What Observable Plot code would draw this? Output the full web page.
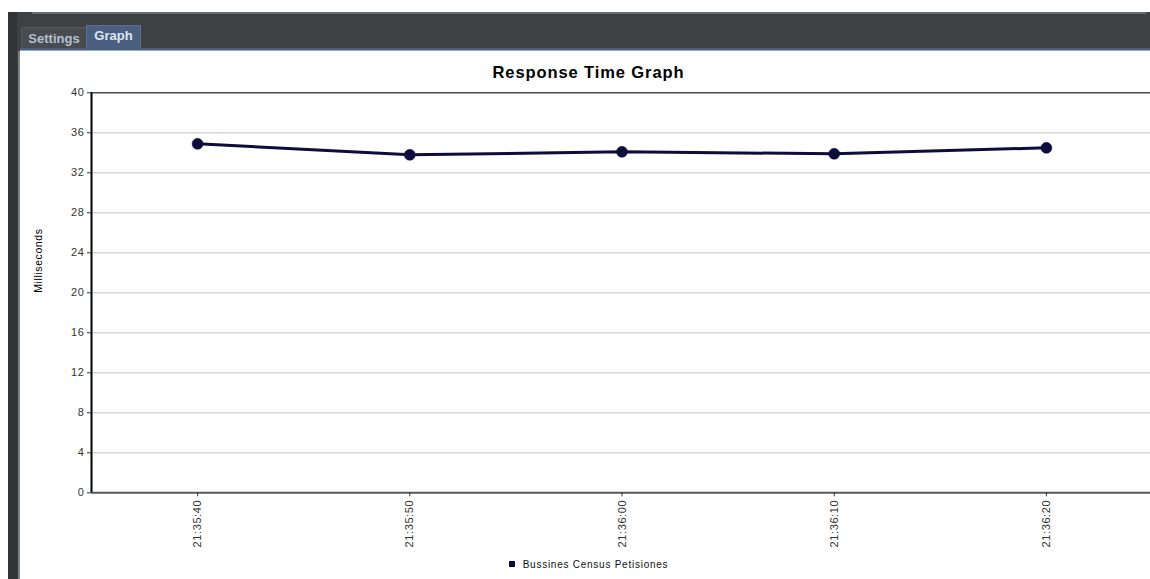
<!DOCTYPE html>
<html>
<head>
<meta charset="utf-8">
<script src="https://cdn.jsdelivr.net/npm/d3@7"></script>
<script src="https://cdn.jsdelivr.net/npm/@observablehq/plot@0.6"></script>
<style>
html,body{margin:0;padding:0;background:#fff;width:1150px;height:579px;overflow:hidden;font-family:"Liberation Sans",Arial,sans-serif;}
.abs{position:absolute;}
#panel{left:8px;top:12px;width:1142px;height:567px;background:#3d4144;}
#lstrip{left:8px;top:12px;width:9px;height:567px;background:#303437;}
#lline{left:18px;top:51px;width:2px;height:528px;background:#7d8184;}
#topline{left:32px;top:12px;width:1114px;height:2px;background:#6b6f72;}
#tabline{left:20px;top:48px;width:1130px;height:2px;background:#4a5f80;}
#tabline2{left:20px;top:50px;width:1130px;height:1px;background:#9aabc4;}
#tabSettings{left:21px;top:27px;width:64px;height:21px;background:#474c51;border:1px solid #55595d;border-bottom:none;border-radius:3px 0 0 0;color:#b4c0cc;font-weight:bold;font-size:13px;line-height:22px;text-align:center;}
#tabGraph{left:86px;top:25px;width:53px;height:24px;background:#4b5f80;border:1px solid #5c6f8e;border-bottom:none;color:#dfe6f0;font-weight:bold;font-size:13px;line-height:20px;text-align:center;}
#chart{left:20px;top:51px;width:1130px;height:528px;background:#fff;overflow:hidden;}
#title{position:absolute;left:0;top:0;width:1137px;height:30px;line-height:42px;text-align:center;font-weight:bold;font-size:16.5px;letter-spacing:0.9px;color:#000;}
#svgwrap{position:absolute;left:0;top:30px;width:1137px;height:470px;}
#svgwrap svg{max-width:none !important;}
#legend{position:absolute;left:0;top:506px;width:1137px;height:16px;line-height:16px;text-align:center;font-size:10px;letter-spacing:0.75px;color:#111;}
#legend .sw{display:inline-block;width:6px;height:6px;background:#0d0c3b;margin-right:8px;vertical-align:1px;}
</style>
</head>
<body>
<div class="abs" id="panel"></div>
<div class="abs" id="lstrip"></div>
<div class="abs" id="topline"></div>
<div class="abs" id="tabSettings">Settings</div>
<div class="abs" id="tabGraph">Graph</div>
<div class="abs" id="tabline"></div>
<div class="abs" id="tabline2"></div>
<div class="abs" id="lline"></div>
<div class="abs" id="chart">
  <div id="title">Response Time Graph</div>
  <div id="svgwrap"></div>
  <div id="legend"><span class="sw"></span>Bussines Census Petisiones</div>
</div>
<script>
// Data
const times = ["21:35:40", "21:35:50", "21:36:00", "21:36:10", "21:36:20"];
const values = [34.9, 33.8, 34.1, 33.9, 34.5];
const yTicks = [0, 4, 8, 12, 16, 20, 24, 28, 32, 36, 40];
const seriesName = "Bussines Census Petisiones";
const yLabel = "Milliseconds";

const parse = d3.utcParse("%H:%M:%S");
const fmt = d3.utcFormat("%H:%M:%S");
const data = times.map((t, i) => ({time: parse(t), value: values[i], series: seriesName}));
const tickDates = times.map(parse);
const x0 = d3.utcSecond.offset(tickDates[0], -5);
const x1 = d3.utcSecond.offset(tickDates[tickDates.length - 1], 5);
const lineColor = "#0d0c3b";

const chart = Plot.plot({
  width: 1137,
  height: 470,
  marginLeft: 71,
  marginRight: 5,
  marginTop: 11.3,
  marginBottom: 58.7,
  style: {fontFamily: "'Liberation Sans', Arial, sans-serif", fontSize: "11px", letterSpacing: "0.6px", background: "transparent", overflow: "visible", maxWidth: "none"},
  x: {type: "utc", domain: [x0, x1]},
  y: {domain: [0, 40]},
  marks: [
    Plot.gridY(yTicks.filter(d => d > 0 && d < 40), {stroke: "#c4c4c4", strokeOpacity: 1, strokeWidth: 1}),
    Plot.ruleY([40], {stroke: "#4a4a4a", strokeWidth: 1.5}),
    Plot.ruleY([0], {stroke: "#5a5a5a", strokeWidth: 2}),
    Plot.axisY({ticks: yTicks, tickSize: 4, tickPadding: 3, label: null, color: "#333", fontSize: 11}),
    Plot.axisX({ticks: tickDates, tickFormat: fmt, tickRotate: -90, tickSize: 4, tickPadding: 3, label: null, color: "#333", fontSize: 11}),
    Plot.ruleX([x0], {stroke: "#000", strokeWidth: 2}),
    Plot.line(data, {x: "time", y: "value", stroke: lineColor, strokeWidth: 3}),
    Plot.dot(data, {x: "time", y: "value", r: 5.5, fill: lineColor, stroke: lineColor, strokeWidth: 0.5}),
    Plot.text([yLabel], {frameAnchor: "left", rotate: -90, dx: -53, fontSize: 10.5, fill: "#000"})
  ]
});
document.getElementById("svgwrap").appendChild(chart);
</script>
</body>
</html>
